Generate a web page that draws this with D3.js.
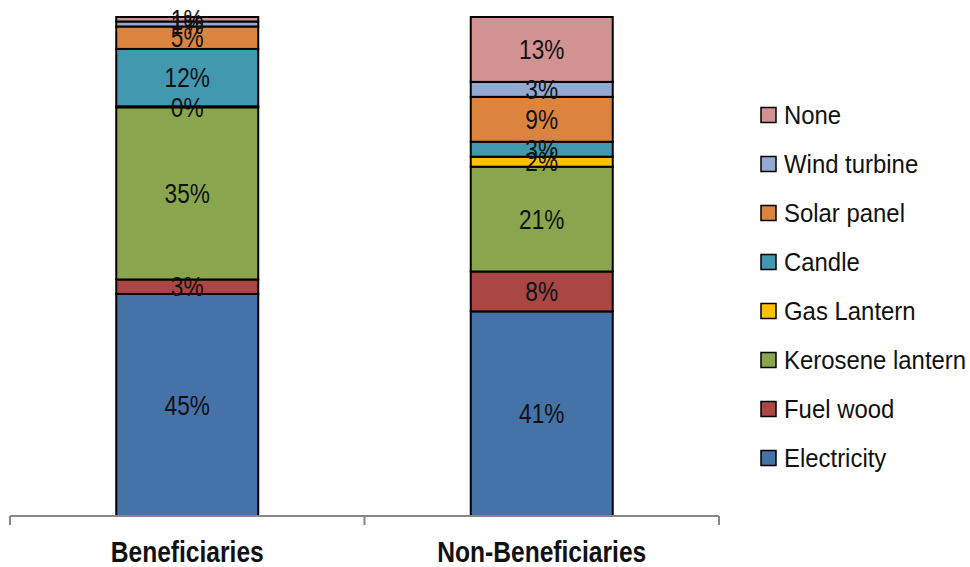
<!DOCTYPE html>
<html>
<head>
<meta charset="utf-8">
<script src="https://cdn.jsdelivr.net/npm/d3@7"></script>
<style>
  html, body { margin: 0; padding: 0; background: #fff; }
  svg { display: block; }
  text { font-family: "Liberation Sans", Arial, sans-serif; fill: #111; }
</style>
</head>
<body>
<svg id="chart" width="970" height="567"></svg>
<script>
// Lighting source shares (%) by group
const groups = ["Beneficiaries", "Non-Beneficiaries"];
const sources = ["Electricity", "Fuel wood", "Kerosene lantern", "Gas Lantern", "Candle", "Solar panel", "Wind turbine", "None"];
const beneficiaries    = [44.5, 2.9, 34.5, 0.2, 11.5, 4.5, 1.0, 0.9];
const nonBeneficiaries = [41, 8, 21, 2, 3, 9, 3, 13];
const colors = ["#4572A7", "#AA4643", "#89A54E", "#FFC000", "#4198AF", "#DB843D", "#93A9CF", "#D19392"];

const rows = [beneficiaries, nonBeneficiaries].map((vals, i) => {
  const r = { group: groups[i] };
  sources.forEach((s, j) => r[s] = vals[j]);
  return r;
});

const svg = d3.select("#chart");

const x = d3.scaleBand().domain(groups).range([10, 719]).paddingInner(0).paddingOuter(0);
const y = d3.scaleLinear().domain([0, 100]).range([516, 17]);
const color = d3.scaleOrdinal().domain(sources).range(colors);
const barW = 142;

const series = d3.stack().keys(sources)(rows);

const layer = svg.append("g").selectAll("g")
  .data(series)
  .join("g")
  .attr("fill", d => color(d.key));

layer.selectAll("rect")
  .data(d => d.map(p => ({ key: d.key, p })))
  .join("rect")
  .attr("x", d => x(d.p.data.group) + (x.bandwidth() - barW) / 2)
  .attr("y", d => y(d.p[1]))
  .attr("width", barW)
  .attr("height", d => y(d.p[0]) - y(d.p[1]))
  .attr("stroke", "#000")
  .attr("stroke-width", 2);

// Value labels centred in each segment
const fmt = v => Math.round(v) + "%";
const labels = svg.append("g");
series.forEach(s => {
  s.forEach(p => {
    const cx = x(p.data.group) + x.bandwidth() / 2;
    const cy = (y(p[0]) + y(p[1])) / 2;
    labels.append("text")
      .attr("transform", `translate(${cx},${cy}) scale(0.84,1)`)
      .attr("text-anchor", "middle")
      .attr("dy", "0.36em")
      .attr("font-size", 27)
      .text(fmt(p.data[s.key]));
  });
});

// Category axis
const axisG = svg.append("g").attr("transform", "translate(0,516)");
axisG.append("line")
  .attr("x1", x.range()[0]).attr("x2", x.range()[1])
  .attr("y1", 0).attr("y2", 0)
  .attr("stroke", "#888").attr("stroke-width", 2);
const edges = groups.map(g => x(g)).concat([x.range()[1]]);
axisG.selectAll("line.tick")
  .data(edges)
  .join("line")
  .attr("class", "tick")
  .attr("x1", d => d).attr("x2", d => d)
  .attr("y1", 0).attr("y2", 9)
  .attr("stroke", "#888").attr("stroke-width", 2);
axisG.selectAll("text.cat")
  .data(groups)
  .join("text")
  .attr("class", "cat")
  .attr("transform", d => `translate(${x(d) + x.bandwidth() / 2},46) scale(0.82,1)`)
  .attr("text-anchor", "middle")
  .attr("font-size", 30)
  .attr("font-weight", "bold")
  .text(d => d);

// Legend (top entry = top of stack)
const legendItems = sources.slice().reverse();
const legend = svg.append("g").attr("transform", "translate(761,115)");
const li = legend.selectAll("g")
  .data(legendItems)
  .join("g")
  .attr("transform", (d, i) => `translate(0,${i * 49})`);
li.append("rect")
  .attr("x", 0).attr("y", -7.5)
  .attr("width", 15).attr("height", 15)
  .attr("fill", d => color(d))
  .attr("stroke", "#000").attr("stroke-width", 1.5);
li.append("text")
  .attr("transform", "translate(23,0) scale(0.92,1)")
  .attr("dy", "0.36em")
  .attr("font-size", 26)
  .text(d => d);
</script>
</body>
</html>
